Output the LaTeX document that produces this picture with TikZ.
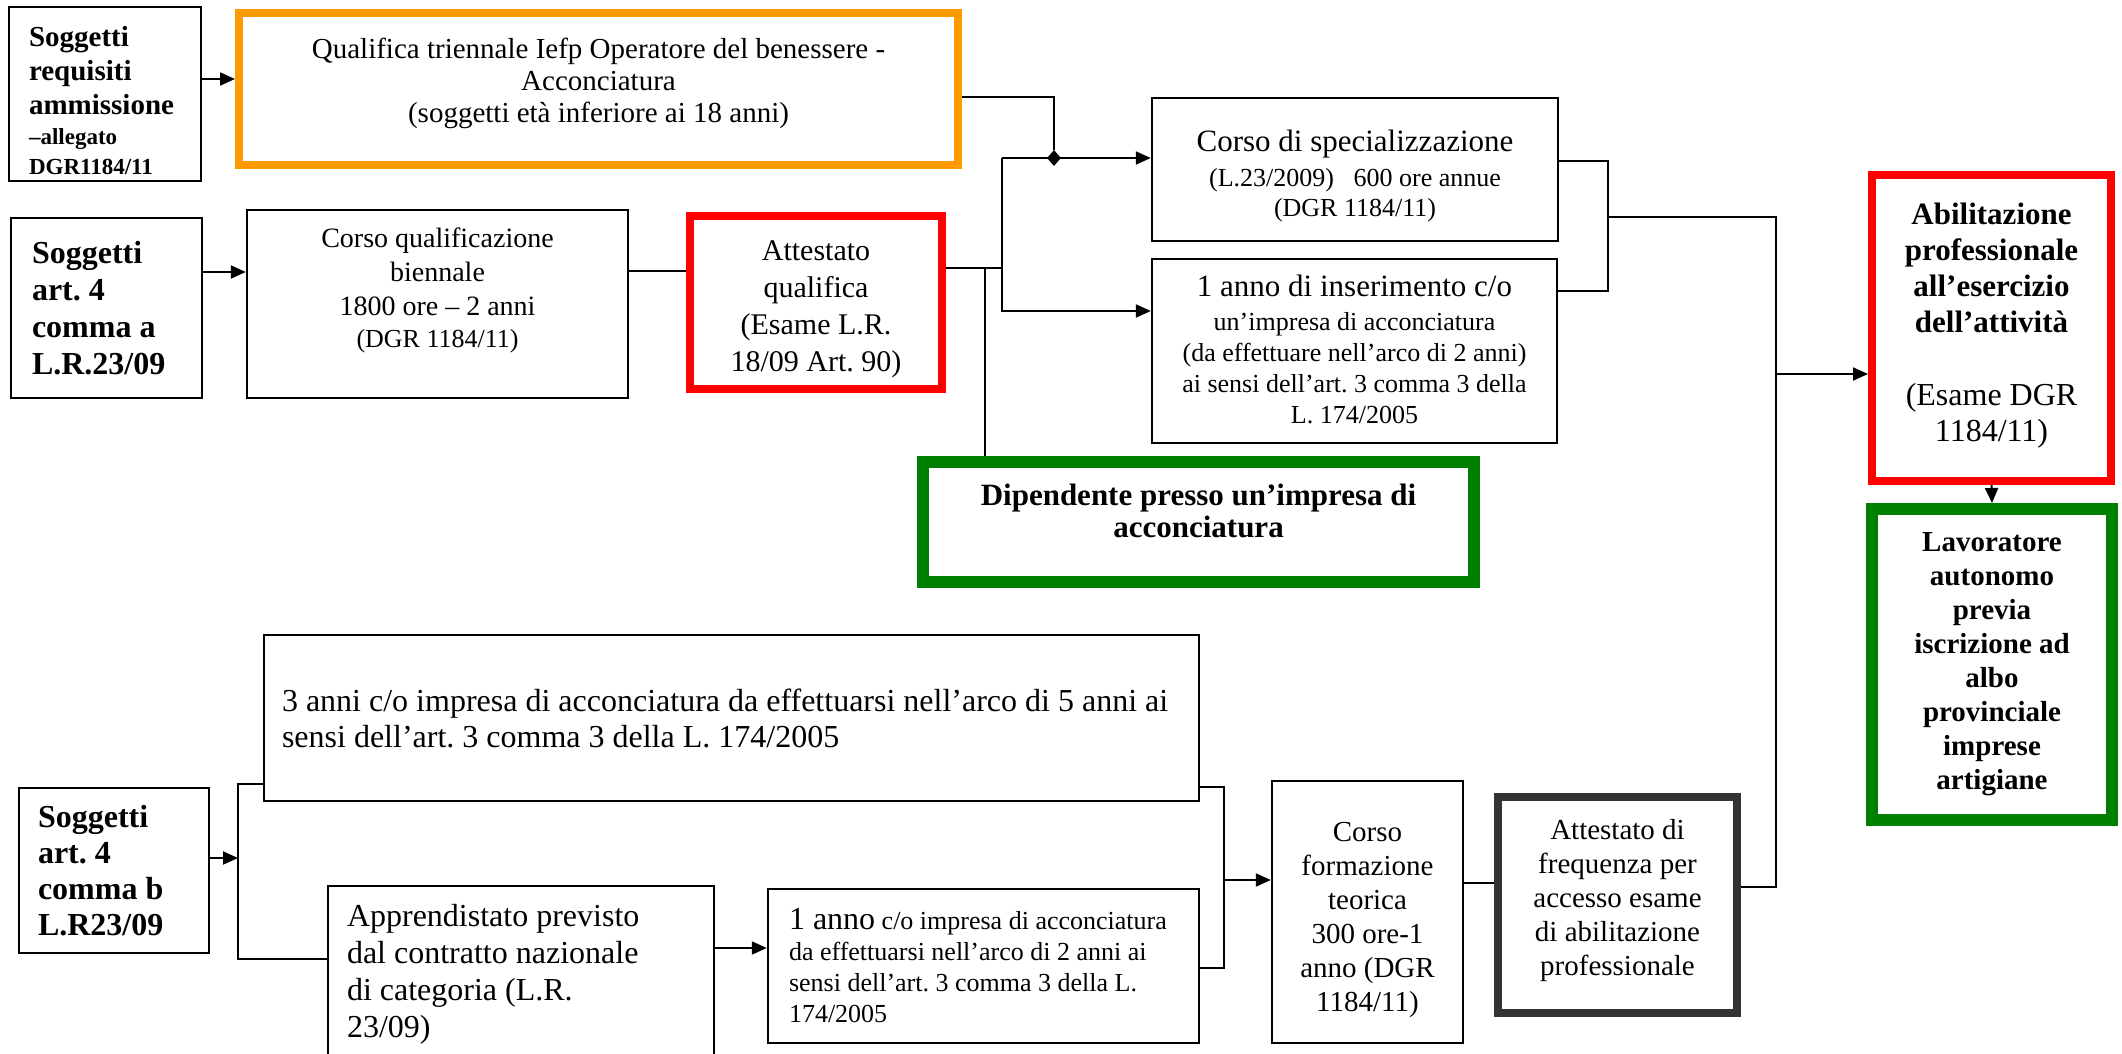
\documentclass[tikz,border=0pt]{standalone}
\usepackage{fontspec}
\setmainfont{Liberation Serif}
\usetikzlibrary{arrows.meta,shapes.geometric}
\definecolor{orng}{HTML}{FF9900}
\definecolor{rd}{HTML}{FF0000}
\definecolor{grn}{HTML}{008000}
\definecolor{dgray}{HTML}{333333}
\newcommand\fsz[2]{\fontsize{#1}{#2}\selectfont\spaceskip=\fontdimen2\font\xspaceskip=\fontdimen2\font\frenchspacing}
\newcommand\tailsp[1]{\par\vspace{#1}\hrule height0pt\relax}
\begin{document}
\begin{tikzpicture}[x=1pt,y=-1pt,
  box/.style={draw, line width=2.4pt, rectangle, inner ysep=2pt},
  obox/.style={box, draw=orng, line width=8pt},
  rbox/.style={box, draw=rd, line width=8pt},
  gbox/.style={box, draw=grn, line width=12pt},
  kbox/.style={box, draw=dgray, line width=8pt},
  cbox/.style={align=center, inner xsep=4pt},
  ln/.style={line width=2pt},
  arr/.style={ln, -{Triangle[length=15pt,width=13pt]}},
]
\useasboundingbox (0,0) rectangle (2122,1054);
\fill[white] (0,0) rectangle (2122,1054);
\clip (0,0) rectangle (2122,1054);

% ---- top rows
\node[box, align=left, inner xsep=20pt, text width=152pt, minimum width=192pt, minimum height=174pt, font=\fsz{29}{34}\bfseries] (b1) at (105,94)
  {\fsz{29}{34}\bfseries Soggetti\\requisiti\\ammissione\par\fsz{23}{30}–allegato\\DGR1184/11\tailsp{-14pt}};
\node[obox, cbox, text width=700pt, minimum width=719pt, minimum height=152pt, font=\fsz{29}{32}] (orange) at (598.5,89)
  {\fsz{29}{32}Qualifica triennale Iefp Operatore del benessere -\\Acconciatura\\(soggetti età inferiore ai 18 anni)\tailsp{11pt}};
\node[box, align=left, inner xsep=21pt, text width=149pt, minimum width=191pt, minimum height=180pt, font=\fsz{32}{37}\bfseries] (b2) at (106.5,308)
  {\fsz{32}{37}\bfseries Soggetti\\art. 4\\comma a\\L.R.23/09\par};
\node[box, cbox, text width=370pt, minimum width=381pt, minimum height=188pt, font=\fsz{28}{33}] (b3) at (437.5,304)
  {\fsz{28}{34}Corso qualificazione\\biennale\\1800 ore – 2 anni\par\fsz{26}{32}(DGR 1184/11)\tailsp{27pt}};
\node[rbox, cbox, text width=240pt, minimum width=252pt, minimum height=173pt, font=\fsz{30}{37}] (att1) at (816,302.5)
  {\fsz{30}{37}Attestato\\qualifica\\(Esame L.R.\\18/09 Art. 90)\tailsp{-14pt}};
\node[box, cbox, text width=396pt, minimum width=406pt, minimum height=143pt, font=\fsz{26}{30}] (spec) at (1355,169.5)
  {\fsz{31}{35}Corso di specializzazione\par\vspace{5pt}\fsz{26}{30}(L.23/2009)~~~600 ore annue\\(DGR 1184/11)\tailsp{-14pt}};
\node[box, cbox, text width=395pt, minimum width=405pt, minimum height=184pt, font=\fsz{26}{31}] (ins) at (1354.5,351)
  {\fsz{31}{35}1 anno di inserimento c/o\par\vspace{3pt}\fsz{26}{31}un’impresa di acconciatura\\(da effettuare nell’arco di 2 anni)\\ai sensi dell’art. 3 comma 3 della\\L. 174/2005\tailsp{3pt}};
\node[gbox, cbox, text width=535pt, minimum width=551pt, minimum height=120pt, font=\fsz{31}{32}\bfseries] (dip) at (1198.5,522)
  {\fsz{31}{32}\bfseries Dipendente presso un’impresa di\\acconciatura\tailsp{22pt}};
\node[rbox, cbox, text width=230pt, minimum width=239pt, minimum height=306pt, font=\fsz{31}{36}\bfseries] (abil) at (1991.5,328)
  {\fsz{31}{36}\bfseries Abilitazione\\professionale\\all’esercizio\\dell’attività\par\vspace{37pt}\fsz{32}{36}\mdseries(Esame DGR\\1184/11)\tailsp{4pt}};
\node[gbox, cbox, text width=224pt, minimum width=240pt, minimum height=311pt, font=\fsz{29}{34}\bfseries] (lav) at (1992,664.5)
  {\fsz{29}{34}\bfseries Lavoratore\\autonomo\\previa\\iscrizione ad\\albo\\provinciale\\imprese\\artigiane\par};

% ---- bottom rows
\node[box, align=left, inner xsep=18pt, text width=899pt, minimum width=935pt, minimum height=166pt, font=\fsz{32}{36}] (tre) at (731.5,718)
  {\fsz{32}{36}3 anni c/o impresa di acconciatura da effettuarsi nell’arco di 5 anni ai\\sensi dell’art. 3 comma 3 della L. 174/2005\par};
\node[box, align=left, inner xsep=19pt, text width=152pt, minimum width=190pt, minimum height=165pt, font=\fsz{32}{36}\bfseries] (b4) at (114,870.5)
  {\fsz{32}{36}\bfseries Soggetti\\art. 4\\comma b\\L.R23/09\par};
\node[box, align=left, inner xsep=19pt, text width=348pt, minimum width=386pt, minimum height=177pt, font=\fsz{32}{37}] (appr) at (521,974.5)
  {\fsz{32}{37}Apprendistato previsto\\dal contratto nazionale\\di categoria (L.R.\\23/09)\par};
\node[box, align=left, inner xsep=21pt, text width=389pt, minimum width=431pt, minimum height=154pt, font=\fsz{26}{31}] (uno) at (983.5,966)
  {\fsz{26}{31}{\fsz{32}{31}1 anno} c/o impresa di acconciatura\\da effettuarsi nell’arco di 2 anni ai\\sensi dell’art. 3 comma 3 della L.\\174/2005\par};
\node[box, cbox, text width=182pt, minimum width=191pt, minimum height=262pt, font=\fsz{29}{34}] (cft) at (1367.5,912)
  {\fsz{29}{34}Corso\\formazione\\teorica\\300 ore-1\\anno (DGR\\1184/11)\tailsp{-16pt}};
\node[kbox, cbox, text width=228pt, minimum width=239pt, minimum height=216pt, font=\fsz{29}{34}] (attf) at (1617.5,905)
  {\fsz{29}{34}Attestato di\\frequenza per\\accesso esame\\di abilitazione\\professionale\tailsp{8pt}};

% ---- junctions
\node[diamond, fill=black, inner sep=0pt, minimum width=14pt, minimum height=16pt] (dm) at (1054,158) {};
\coordinate (jA) at (1002,158);
\coordinate (jB) at (1002,311);
\coordinate (jC) at (1002,268);
\coordinate (jD) at (985,268);
\coordinate (kA) at (1608,161);
\coordinate (kB) at (1608,291);
\coordinate (kC) at (1608,217);
\coordinate (mA) at (1776,217);
\coordinate (mB) at (1776,887);
\coordinate (mC) at (1776,374);
\coordinate (pA) at (238,784);
\coordinate (pB) at (238,959);
\coordinate (pC) at (238,858);
\coordinate (qA) at (1224,787);
\coordinate (qB) at (1224,968);
\coordinate (qC) at (1224,880);

% ---- connectors top
\draw[arr] (b1.east |- 0,79) -- (orange.west |- 0,79);
\draw[arr] (b2.east |- 0,272) -- (b3.west |- 0,272);
\draw[ln] (b3.east |- 0,271) -- (att1.west |- 0,271);
\draw[ln] (orange.east |- 0,97) -| (dm.north);
\draw[ln] (att1.east |- jC) -- (jC);
\draw[arr] (jA) -- (spec.west |- jA);
\draw[arr] (jA) -- (jB) -- (ins.west |- jB);
\draw[ln] (jD) -- (jD |- dip.north);
\draw[ln] (spec.east |- kA) -- (kA) -- (kB) -- (ins.east |- kB);
\draw[ln] (kC) -- (mA) -- (mB) -- (attf.east |- mB);
\draw[arr] (mC) -- (abil.west |- mC);
\draw[arr] (abil.south) -- (lav.north);

% ---- connectors bottom
\draw[arr] (b4.east |- pC) -- (pC);
\draw[ln] (tre.west |- pA) -- (pA) -- (pB) -- (appr.west |- pB);
\draw[arr] (appr.east |- 0,948) -- (uno.west |- 0,948);
\draw[ln] (tre.east |- qA) -- (qA) -- (qB) -- (uno.east |- qB);
\draw[arr] (qC) -- (cft.west |- qC);
\draw[ln] (cft.east |- 0,883) -- (attf.west |- 0,883);
\end{tikzpicture}
\end{document}
